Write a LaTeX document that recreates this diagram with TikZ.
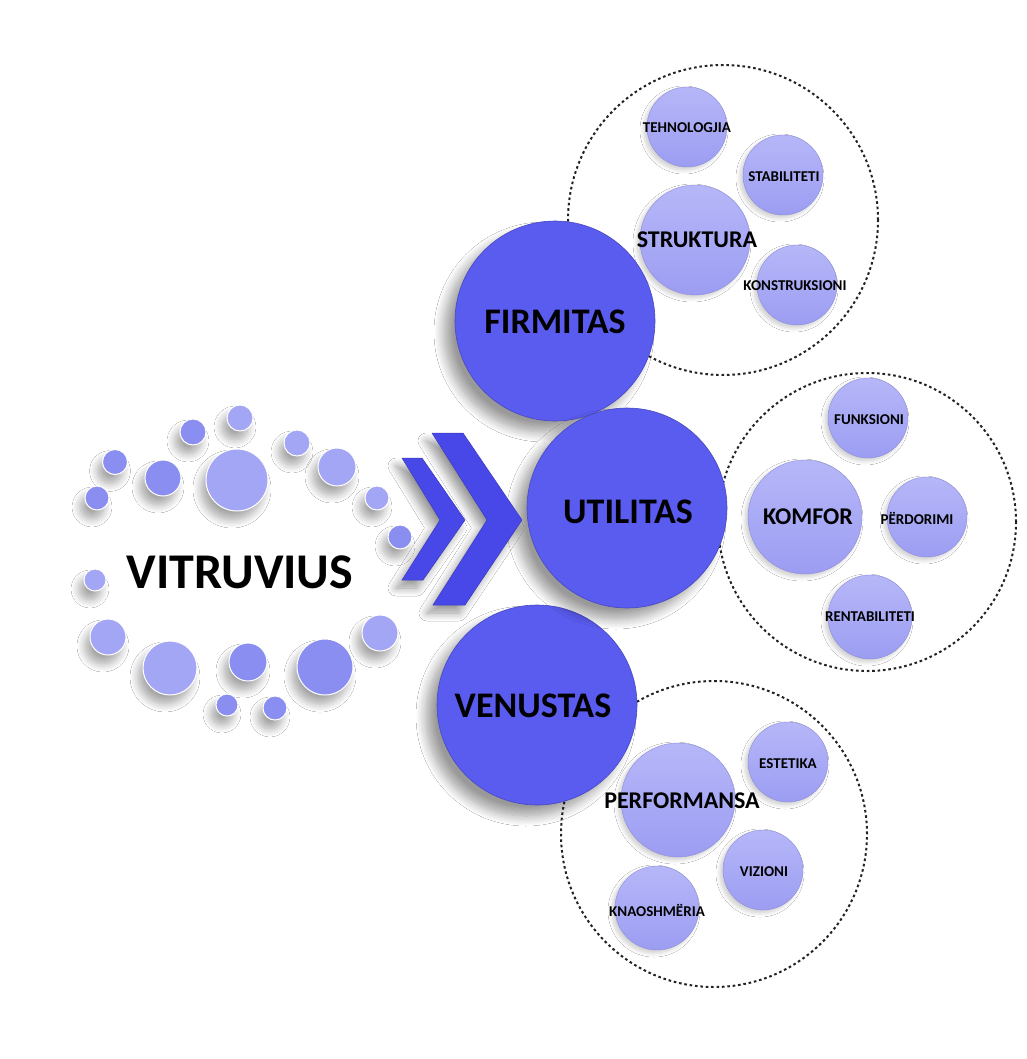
\documentclass[tikz,border=0pt]{standalone}
\usepackage{fontspec}
\setmainfont{Carlito}
\usetikzlibrary{shadows.blur}
\definecolor{bigblue}{HTML}{5A5BEF}
\definecolor{chevblue}{HTML}{4848E8}
\definecolor{subtop}{HTML}{B6B7F8}
\definecolor{subbot}{HTML}{9C9DF2}
\definecolor{dotblue}{HTML}{8A8EF0}
\definecolor{dotlight}{HTML}{A3A6F4}
\definecolor{ringgrey}{HTML}{222222}
\tikzset{
  bigcirc/.style={circle, fill=bigblue, draw=bigblue!80!black, line width=0.6pt, inner sep=0pt, minimum size=200pt,
    blur shadow={shadow xshift=-11pt, shadow yshift=-11pt, shadow blur radius=10pt, shadow blur steps=12, shadow opacity=40}},
  subcirc/.style={circle, top color=subtop, bottom color=subbot, draw=subbot!90!black, line width=0.4pt, inner sep=0pt,
    blur shadow={shadow xshift=-3pt, shadow yshift=-3pt, shadow blur radius=4pt, shadow blur steps=8, shadow opacity=20}},
  ring/.style={draw=ringgrey, line width=2pt, dash pattern=on 2.6pt off 2.8pt, circle, inner sep=0pt},
  dotc/.style={circle, fill=dotblue, draw=white, line width=1pt, inner sep=0pt,
    blur shadow={shadow xshift=-5pt, shadow yshift=-9pt, shadow blur radius=8pt, shadow blur steps=10, shadow opacity=35}},
  dotl/.style={dotc, fill=dotlight},
  chev/.style={fill=chevblue, draw=chevblue!80!black, line width=0.5pt,
    blur shadow={shadow xshift=-6pt, shadow yshift=-8pt, shadow blur radius=8pt, shadow blur steps=10, shadow opacity=40}},
  biglbl/.style={font=\bfseries\fontsize{36}{40}\selectfont, text=black, inner sep=0pt},
  midlbl/.style={font=\bfseries\fontsize{24}{28}\selectfont, text=black, inner sep=0pt},
  smlbl/.style={font=\bfseries\fontsize{15}{17}\selectfont, text=black, inner sep=0pt},
}
\begin{document}
\begin{tikzpicture}[x=1pt,y=-1pt]
\useasboundingbox (0,0) rectangle (1026,1059);
\fill[white] (0,0) rectangle (1026,1059);

% dashed rings
\node[ring, minimum size=310pt] (ringF) at (723,220) {};
\node[ring, minimum size=298pt] (ringU) at (867,522) {};
\node[ring, minimum size=306pt] (ringV) at (714,834) {};

% sub circles - Firmitas
\node[subcirc, minimum size=80pt] (tehn) at (687,127) {};
\node[subcirc, minimum size=80pt] (stab) at (783,175) {};
\node[subcirc, minimum size=110pt] (strk) at (695,240) {};
\node[subcirc, minimum size=80pt] (kons) at (797,285) {};
% sub circles - Utilitas
\node[subcirc, minimum size=80pt] (funk) at (868,418) {};
\node[subcirc, minimum size=114pt] (komf) at (805,517) {};
\node[subcirc, minimum size=80pt] (perd) at (927,517) {};
\node[subcirc, minimum size=84pt] (rent) at (870,617) {};
% sub circles - Venustas
\node[subcirc, minimum size=80pt] (este) at (788,762) {};
\node[subcirc, minimum size=114pt] (perf) at (678,800) {};
\node[subcirc, minimum size=80pt] (vizi) at (763,870) {};
\node[subcirc, minimum size=84pt] (knao) at (657,908) {};

% sub labels
\node[smlbl] (tTehn) at (687,128) {TEHNOLOGJIA};
\node[smlbl] (tStab) at (784,177) {STABILITETI};
\node[midlbl] (tStrk) at (697,240) {STRUKTURA};
\node[smlbl] (tKons) at (795,286) {KONSTRUKSIONI};
\node[smlbl] (tFunk) at (869,420) {FUNKSIONI};
\node[midlbl] (tKomf) at (808,517) {KOMFOR};
\node[smlbl] (tPerd) at (917,518) {PËRDORIMI};
\node[smlbl] (tRent) at (870,617) {RENTABILITETI};
\node[smlbl] (tEste) at (788,764) {ESTETIKA};
\node[midlbl] (tPerf) at (682,801) {PERFORMANSA};
\node[smlbl] (tVizi) at (764,872) {VIZIONI};
\node[smlbl] (tKnao) at (657,910) {KNAOSHMËRIA};

% big circles
\node[bigcirc] (firm) at (555,321) {};
\node[bigcirc] (vens) at (537,705) {};
\node[bigcirc] (util) at (627,508) {};
\node[biglbl] (tFirm) at (555,322) {FIRMITAS};
\node[biglbl] (tUtil) at (628,512) {UTILITAS};
\node[biglbl] (tVens) at (533,706) {VENUSTAS};

% chevrons
\fill[chev] (402,458) -- (422,458) -- (465,520) -- (423,580) -- (402,580) -- (440,520) -- cycle;
\fill[chev] (432,433) -- (463,433) -- (522,520) -- (465,605) -- (433,605) -- (487,520) -- cycle;

% Vitruvius dots
\node[dotl, minimum size=26pt] (d1) at (240,418) {};
\node[dotc, minimum size=26pt] (d2) at (193,432) {};
\node[dotl, minimum size=26pt] (d3) at (297,443) {};
\node[dotc, minimum size=25pt] (d4) at (115,462) {};
\node[dotc, minimum size=36pt] (d5) at (163,478) {};
\node[dotl, minimum size=62pt] (d6) at (237,480) {};
\node[dotl, minimum size=38pt] (d7) at (337,467) {};
\node[dotc, minimum size=24pt] (d8) at (97,498) {};
\node[dotl, minimum size=24pt] (d9) at (377,498) {};
\node[dotc, minimum size=24pt] (d10) at (400,537) {};
\node[dotl, minimum size=22pt] (d11) at (95,580) {};
\node[dotl, minimum size=36pt] (d12) at (108,637) {};
\node[dotl, minimum size=36pt] (d13) at (380,633) {};
\node[dotl, minimum size=54pt] (d14) at (170,668) {};
\node[dotc, minimum size=38pt] (d15) at (248,662) {};
\node[dotc, minimum size=56pt] (d16) at (325,667) {};
\node[dotc, minimum size=22pt] (d17) at (227,705) {};
\node[dotc, minimum size=24pt] (d18) at (275,708) {};

\node[font=\bfseries\fontsize{50}{56}\selectfont, inner sep=0pt] (vitr) at (240,572) {VITRUVIUS};
\end{tikzpicture}
\end{document}
